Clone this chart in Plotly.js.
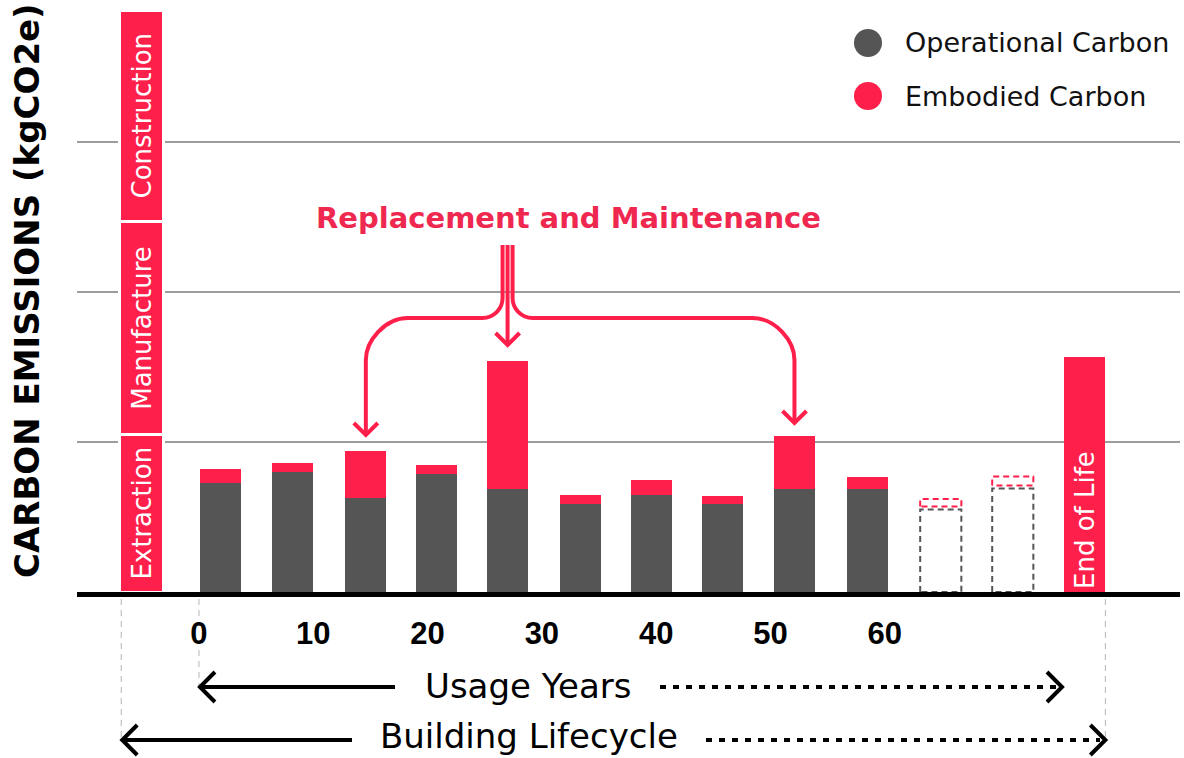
<!DOCTYPE html>
<html><head><meta charset="utf-8">
<script src="https://cdn.plot.ly/plotly-3.0.1.min.js"></script>
<style>html,body{margin:0;padding:0;background:#fff;}</style>
</head><body><div id="chart" style="width:1184px;height:758px;"></div>
<script>
// ---------- data ----------
const stageNames = ['Extraction', 'Manufacture', 'Construction'];
const stageValues = [1.05, 1.42, 1.41];
const stagePosition = -5.0;
const usePositions = [1.9, 8.2, 14.6, 20.8, 27.0, 33.4, 39.6, 45.8, 52.1, 58.5];
const operational = [0.73, 0.80, 0.63, 0.79, 0.69, 0.59, 0.65, 0.59, 0.69, 0.69];
const embodied    = [0.09, 0.06, 0.31, 0.06, 0.85, 0.06, 0.10, 0.05, 0.35, 0.08];
const projectedPositions = [64.9, 71.2];
const projectedOperational = [0.55, 0.69];
const projectedEmbodied = [0.07, 0.08];
const endOfLifePosition = 77.5;
const endOfLifeValue = 1.57;
const endOfLifeLabel = 'End of Life';
const yearTicks = [0, 10, 20, 30, 40, 50, 60];
const yearTickLabels = ['0', '10', '20', '30', '40', '50', '60'];
const replacementBars = [2, 4, 8]; // indexes into usePositions
const seriesNames = ['Operational Carbon', 'Embodied Carbon'];
const yTitle = 'CARBON EMISSIONS (kgCO2e)';
const calloutTitle = 'Replacement and Maintenance';
const usageLabel = 'Usage Years';
const lifecycleLabel = 'Building Lifecycle';

// ---------- style / geometry ----------
const RED = '#ff1f4b', GREY = '#555555';
const BW = 3.6;
const L = 77, R = 4, T = 0, B = 166, FW = 1184, FH = 758;
const W = FW - L - R, H = FH - T - B;
const XR = [-10.67, 85.83], YR = [0, 3.9467];
const xpx = x => L + (x - XR[0]) / (XR[1] - XR[0]) * W;
const ypx = v => T + H - (v - YR[0]) / (YR[1] - YR[0]) * H;
const PX = p => (p - L) / W, PY = p => (T + H - p) / H;

const traces = [];
stageNames.forEach((n, i) => {
  traces.push({
    type: 'bar', name: n, x: [stagePosition], y: [stageValues[i]],
    width: BW + 0.27, marker: {color: RED, line: {color: '#fff', width: 3}},
    text: [n], textposition: 'inside', insidetextanchor: 'middle', textangle: -90,
    constraintext: 'none',
    textfont: {family: 'DejaVu Sans', size: 26, color: '#fff'}, hoverinfo: 'skip'
  });
});
traces.push({type: 'bar', name: seriesNames[0], x: usePositions, y: operational, width: BW,
  marker: {color: GREY, line: {width: 0}}});
traces.push({type: 'bar', name: seriesNames[1], x: usePositions, y: embodied, width: BW,
  marker: {color: RED, line: {width: 0}}});
traces.push({type: 'bar', name: endOfLifeLabel, x: [endOfLifePosition], y: [endOfLifeValue], width: BW,
  marker: {color: RED, line: {width: 0}}, text: [endOfLifeLabel], textposition: 'inside',
  insidetextanchor: 'start', textangle: -90, constraintext: 'none',
  textfont: {family: 'DejaVu Sans', size: 26, color: '#fff'}});

// projected (dashed outline) bars
projectedPositions.forEach((p, i) => {
  const x0 = p - BW / 2, x1 = p + BW / 2;
  const o = projectedOperational[i], t = o + projectedEmbodied[i];
  traces.push({type: 'scatter', mode: 'lines', x: [x0, x0, x1, x1, x0], y: [0, o, o, 0, 0],
    line: {color: GREY, width: 2, dash: '6px,4px'}, cliponaxis: false, hoverinfo: 'skip'});
  traces.push({type: 'scatter', mode: 'lines', x: [x0, x0, x1, x1, x0], y: [o + 0.02, t, t, o + 0.02, o + 0.02],
    line: {color: RED, width: 2, dash: '6px,4px'}, cliponaxis: false, hoverinfo: 'skip'});
});

// ---------- decorations ----------
const shapes = [], annotations = [];
function line(x0, y0, x1, y1, color, width, dash) {
  shapes.push({type: 'line', xref: 'paper', yref: 'paper', x0: PX(x0), y0: PY(y0), x1: PX(x1), y1: PY(y1),
    line: {color: color, width: width, dash: dash || 'solid'}});
}
function path(cmds, color, width) {
  const s = cmds.map(c => {
    const out = [c[0]];
    for (let k = 1; k < c.length; k += 2) out.push(PX(c[k]).toFixed(5) + ',' + PY(c[k + 1]).toFixed(5));
    return out.join(' ');
  }).join(' ');
  shapes.push({type: 'path', xref: 'paper', yref: 'paper', path: s, line: {color: color, width: width}});
}
function text(t, x, y, font, xanchor) {
  annotations.push({text: t, xref: 'paper', yref: 'paper', x: PX(x), y: PY(y), showarrow: false,
    xanchor: xanchor || 'center', yanchor: 'middle', borderpad: 0, font: font});
}
function chevron(tx, ty, dir, color, w, s) { // dir: 'l','r','d'
  if (dir === 'l') path([['M', tx + s, ty - s], ['L', tx, ty], ['L', tx + s, ty + s]], color, w);
  if (dir === 'r') path([['M', tx - s, ty - s], ['L', tx, ty], ['L', tx - s, ty + s]], color, w);
  if (dir === 'd') path([['M', tx - s, ty - s], ['L', tx, ty], ['L', tx + s, ty - s]], color, w);
}

// guide lines
const leftEdge = xpx(stagePosition - BW / 2), rightEdge = xpx(endOfLifePosition + BW / 2), zeroX = xpx(0);
line(leftEdge, 599, leftEdge, 740, '#b5b5b5', 1, '6px,5px');
line(rightEdge, 599, rightEdge, 740, '#b5b5b5', 1, '6px,5px');
line(zeroX, 599, zeroX, 617, '#b5b5b5', 1, '6px,5px');
line(zeroX, 650, zeroX, 688, '#b5b5b5', 1, '6px,5px');

// usage years arrow
const mainFont = {family: 'DejaVu Sans', size: 34, color: '#000'};
line(zeroX + 2, 687, 395, 687, '#000', 4);
chevron(zeroX + 1, 687, 'l', '#000', 4, 15);
text(usageLabel, 528, 686, mainFont);
line(660, 687, 1060, 687, '#000', 4, '6px,7px');
chevron(1062, 687, 'r', '#000', 4, 15);
// building lifecycle arrow
line(leftEdge + 2, 740, 352, 740, '#000', 4);
chevron(leftEdge + 1, 740, 'l', '#000', 4, 15);
text(lifecycleLabel, 529, 736, mainFont);
line(706, 740, 1100, 740, '#000', 4, '6px,7px');
chevron(rightEdge, 740, 'r', '#000', 4, 15);

// replacement callout
const sx = xpx(usePositions[replacementBars[1]]);
const lx = xpx(usePositions[replacementBars[0]]);
const rx = xpx(usePositions[replacementBars[2]]);
const topPx = i => ypx(operational[i] + embodied[i]);
const tipL = topPx(replacementBars[0]) - 16, tipM = topPx(replacementBars[1]) - 16, tipR = topPx(replacementBars[2]) - 13;
const hy = 318, r1 = 20, r2 = 42;
path([['M', sx - 5, 245], ['L', sx - 5, hy - r1], ['C', sx - 5, hy - r1 * 0.45, sx - 5 - r1 * 0.45, hy, sx - 5 - r1, hy],
      ['L', lx + r2, hy], ['C', lx + r2 * 0.45, hy, lx, hy + r2 * 0.55, lx, hy + r2], ['L', lx, tipL]], RED, 4);
path([['M', sx + 5, 245], ['L', sx + 5, hy - r1], ['C', sx + 5, hy - r1 * 0.45, sx + 5 + r1 * 0.45, hy, sx + 5 + r1, hy],
      ['L', rx - r2, hy], ['C', rx - r2 * 0.45, hy, rx, hy + r2 * 0.55, rx, hy + r2], ['L', rx, tipR]], RED, 4);
path([['M', sx, 245], ['L', sx, tipM]], RED, 4);
chevron(lx, tipL, 'd', RED, 4, 12);
chevron(sx, tipM, 'd', RED, 4, 12);
chevron(rx, tipR, 'd', RED, 4, 12);
text(calloutTitle, 568, 218, {family: 'DejaVu Sans', size: 29, color: '#ef2850', weight: 'bold'});

// legend
shapes.push({type: 'circle', xref: 'paper', yref: 'paper', x0: PX(854), x1: PX(882), y0: PY(29), y1: PY(57),
  fillcolor: GREY, line: {width: 0}});
shapes.push({type: 'circle', xref: 'paper', yref: 'paper', x0: PX(854), x1: PX(882), y0: PY(82), y1: PY(110),
  fillcolor: RED, line: {width: 0}});
const legFont = {family: 'DejaVu Sans', size: 27, color: '#111'};
text(seriesNames[0], 904, 43, legFont, 'left');
text(seriesNames[1], 904, 96, legFont, 'left');

// y title
text(yTitle, 27, 291, {family: 'DejaVu Sans', size: 34, color: '#000', weight: 'bold'});
annotations[annotations.length - 1].textangle = -90;

const layout = {
  width: FW, height: FH, margin: {l: L, r: R, t: T, b: B, pad: 0},
  paper_bgcolor: '#fff', plot_bgcolor: '#fff', showlegend: false, barmode: 'stack',
  xaxis: {range: XR, showgrid: false, zeroline: false, showline: true, linecolor: '#000', linewidth: 5,
    tickvals: yearTicks, ticktext: yearTickLabels, ticks: '', ticklabelstandoff: 10,
    tickfont: {family: 'Liberation Sans', size: 31, color: '#000', weight: 'bold'}, fixedrange: true},
  yaxis: {range: YR, dtick: 1, tick0: 0, showgrid: true, gridcolor: '#9c9c9c', gridwidth: 2,
    zeroline: false, showline: false, showticklabels: false, fixedrange: true},
  shapes: shapes, annotations: annotations
};
Plotly.newPlot('chart', traces, layout, {displayModeBar: false, staticPlot: true});
</script></body></html>
